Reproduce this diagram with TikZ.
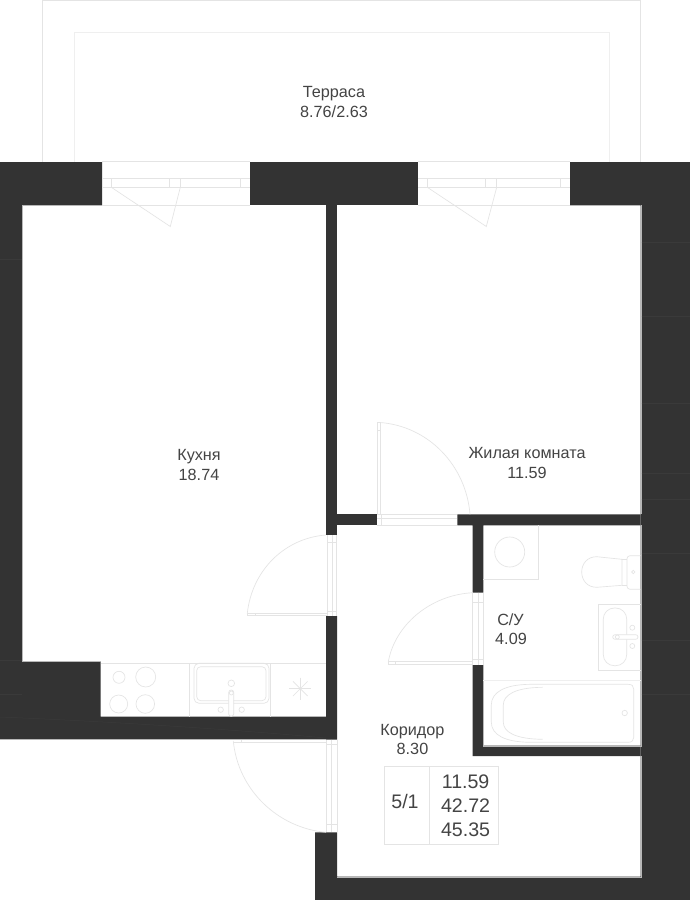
\documentclass[tikz,border=0pt]{standalone}
\usepackage{fontspec}
\setmainfont{Liberation Sans}
\definecolor{wallc}{HTML}{333333}
\definecolor{seamc}{HTML}{3A3A3A}
\definecolor{edgec}{HTML}{B8B8B8}
\definecolor{linec}{HTML}{E4E4E4}
\definecolor{linef}{HTML}{EFEFEF}
\definecolor{txtc}{HTML}{444444}
\tikzset{
  wall/.style={fill=wallc},
  seam/.style={draw=seamc,line width=0.5pt},
  edge line/.style={draw=edgec,line width=0.4pt},
  thin line/.style={draw=linec,line width=0.65pt},
  faint line/.style={draw=linef,line width=1pt},
  label/.style={text=txtc,font=\fontsize{16.2}{16.2}\selectfont,inner sep=0pt,anchor=base},
  big/.style={text=txtc,font=\fontsize{19.6}{19.6}\selectfont,inner sep=0pt,anchor=base},
}
\begin{document}
\begin{tikzpicture}[x=1pt,y=-1pt]
\useasboundingbox (0,0) rectangle (690,900);
\fill[white] (0,0) rectangle (690,900);
% terrace
\draw[thin line] (42.5,162) -- (42.5,0.5) -- (640.7,0.5) -- (640.7,162);
\draw[faint line] (74.5,162) -- (74.5,32) -- (609,32) -- (609,162);
% walls
\path[wall] (0,162) -- (102,162) -- (102,205.3) -- (22.3,205.3) -- (22.3,661.5) -- (100.7,661.5) -- (100.7,716.7) -- (326,716.7) -- (326,616) -- (337,616) -- (337,739.5) -- (0,739.5) -- cycle;
\path[wall] (250.3,162) rectangle (418,205.3);
\path[wall] (326,205.3) rectangle (337,535);
\path[wall] (337,514.3) rectangle (377,525.3);
\path[wall] (570,162) -- (690,162) -- (690,900) -- (315,900) -- (315,832.3) -- (337,832.3) -- (337,876.7) -- (640.7,876.7) -- (640.7,205.3) -- (570,205.3) -- cycle;
\path[wall] (457.3,514.3) -- (640.7,514.3) -- (640.7,525.3) -- (483.3,525.3) -- (483.3,592.7) -- (472.7,592.7) -- (472.7,525.3) -- (457.3,525.3) -- cycle;
\path[wall] (472.7,665) -- (483.3,665) -- (483.3,745.7) -- (640.7,745.7) -- (640.7,756) -- (472.7,756) -- cycle;
% room edges of the walls
\draw[edge line] (22.3,205.3) -- (22.3,661.5) -- (100.7,661.5);
\draw[edge line] (640.7,205.3) -- (640.7,514.3);
\draw[edge line] (640.7,525.3) -- (640.7,745.7) -- (483.3,745.7) -- (483.3,665);
\draw[edge line] (640.7,756) -- (640.7,876.7) -- (337,876.7);
\draw[edge line] (0,739.5) -- (326,739.5);
% wall seams
\foreach \yy in {242,316,403,473,499,553,640,694} {\draw[seam] (641.5,\yy) -- (690,\yy);}
\foreach \yy in {259,660,694} {\draw[seam] (0,\yy) -- (22,\yy);}
\draw[seam] (0,717) .. controls (120,722) and (240,730) .. (326,738);
% windows
\foreach \xa/\xb/\xc/\xd/\xe/\xf in {102/250.3/111.3/169.3/180.3/240.3, 418/570/427.3/485.3/496.7/560.3} {
  \draw[thin line] (\xa,161.7) -- (\xb,161.7);
  \draw[thin line] (\xa,178.3) -- (\xb,178.3);
  \draw[thin line] (\xa,187.3) -- (\xb,187.3);
  \draw[thin line] (\xa,205.3) -- (\xb,205.3);
  \draw[thin line] (\xc,178.3) -- (\xc,187.3);
  \draw[thin line] (\xd,178.3) -- (\xd,187.3);
  \draw[thin line] (\xe,178.3) -- (\xe,187.3);
  \draw[thin line] (\xf,178.3) -- (\xf,187.3);
  \draw[thin line] (\xc,187.3) -- ({\xd+1},226.5) -- (\xe,187.3);
}
% room door
\draw[thin line] (377,422.5) rectangle (380,514.3);
\draw[thin line] (377,430.7) -- (380,430.7);
\draw[thin line] (380,422.5) .. controls (428,426) and (466,465) .. (470,514.3);
\draw[thin line] (377,514.3) -- (457.3,514.3);
\draw[thin line] (377,518.5) -- (457.3,518.5);
\draw[thin line] (377,525.3) -- (457.3,525.3);
\draw[thin line] (381.7,514.3) -- (381.7,525.3);
% kitchen door
\draw[thin line] (327.5,535) -- (327.5,616);
\draw[thin line] (332,535) -- (332,616);
\draw[thin line] (336.7,535) -- (336.7,616);
\draw[thin line] (327.5,542.7) -- (336.7,542.7);
\draw[thin line] (327.5,611.3) -- (336.7,611.3);
\draw[thin line] (247.3,613.3) rectangle (327.5,615.7);
\draw[thin line] (255,613.3) -- (255,615.7);
\draw[thin line] (326,535) .. controls (285,538) and (252,570) .. (247.3,613.3);
% bath door
\draw[thin line] (472.7,592.7) -- (472.7,665);
\draw[thin line] (478,592.7) -- (478,665);
\draw[thin line] (483.3,592.7) -- (483.3,665);
\draw[thin line] (472.7,602.5) -- (483.3,602.5);
\draw[thin line] (472.7,659.5) -- (483.3,659.5);
\draw[thin line] (388.3,661.7) rectangle (472.7,664.3);
\draw[thin line] (395.7,661.7) -- (395.7,664.3);
\draw[thin line] (472.7,592.7) .. controls (430,595) and (395,625) .. (388.3,661.7);
% entry door
\draw[thin line] (326,739.5) -- (326,832.3);
\draw[thin line] (331.5,739.5) -- (331.5,832.3);
\draw[thin line] (337,739.5) -- (337,832.3);
\draw[thin line] (326,744.3) -- (337,744.3);
\draw[thin line] (326,824.3) -- (337,824.3);
\draw[thin line] (233.3,742) -- (326,742);
\draw[thin line] (241.7,739.5) -- (241.7,742);
\draw[thin line] (326,832.3) .. controls (278,828) and (238,790) .. (233.3,741);
% kitchen counter
\draw[thin line] (100.7,663.3) -- (326,663.3);
\draw[thin line] (189.3,663.3) -- (189.3,716.7);
\draw[thin line] (270.7,663.3) -- (270.7,716.7);
\draw[thin line] (119,677.3) circle (6);
\draw[thin line] (145.7,677) circle (10);
\draw[thin line] (118.7,704) circle (9);
\draw[thin line] (145.3,704) circle (9.3);
\draw[thin line,rounded corners=5pt] (194,663.3) rectangle (269,703.3);
\draw[thin line,rounded corners=4pt] (196.7,666.7) rectangle (266,700.7);
\draw[thin line] (231.3,683.3) circle (3.3);
\draw[thin line,rounded corners=2.4pt,fill=white] (228.7,690) rectangle (233.7,716.3);
\draw[thin line] (231.3,693) circle (2);
\draw[thin line] (220.7,709.7) circle (2.7);
\draw[thin line] (241.7,709.7) circle (2.7);
\draw[thin line] (300.3,677.7) -- (300.3,699.7);
\draw[thin line] (289.3,688.7) -- (311.3,688.7);
\draw[thin line] (293,681.4) -- (307.6,696);
\draw[thin line] (293,696) -- (307.6,681.4);
% washer
\draw[thin line] (483.3,579.3) -- (538,579.3) -- (538,525.3);
\draw[thin line] (509.7,552) circle (15);
% toilet
\draw[thin line,rounded corners=3pt] (640.7,555.7) -- (627,555.7) -- (627,589.3) -- (640.7,589.3);
\draw[thin line] (622,559.3) -- (622,585.3) -- (596.7,587.3) .. controls (587,587.3) and (581.7,580) .. (581.7,572) .. controls (581.7,564) and (587,556.7) .. (596.7,556.7) -- cycle;
\draw[thin line] (622,559.3) -- (627,559.3);
\draw[thin line] (622,585.3) -- (627,585.3);
\draw[thin line] (633.3,572) circle (1.7);
% bath sink
\draw[thin line] (640.7,604) -- (598.3,604) -- (598.3,670.3) -- (640.7,670.3);
\draw[thin line,rounded corners=11pt] (603.3,608) rectangle (626.7,665.7);
\draw[thin line,rounded corners=2.3pt,fill=white] (612.7,634.7) rectangle (638,639.3);
\draw[thin line] (617.3,637) circle (2);
\draw[thin line] (632.3,627.7) circle (2.5);
\draw[thin line] (632.3,646) circle (2.5);
% tub
\draw[faint line] (483.3,680.7) -- (640.7,680.7);
\draw[thin line] (530,684.3) -- (628,684.3) .. controls (632,684.3) and (633.7,686) .. (633.7,689) -- (633.7,737.5) .. controls (633.7,740.5) and (632,742.3) .. (628,742.3) -- (530,742.3) .. controls (505,742) and (491.3,735) .. (491.3,722) -- (491.3,705) .. controls (491.3,692) and (505,684.6) .. (530,684.3);
\draw[thin line] (542.7,687.3) .. controls (515,687.5) and (503.3,695) .. (503.3,705) -- (503.3,722) .. controls (503.3,732) and (515,739) .. (542.7,739.3);
\draw[thin line] (624.7,713) circle (2.7);
% summary table
\draw[thin line] (384.7,766) rectangle (498.7,844.7);
\draw[thin line] (429.3,766) -- (429.3,844.7);
% labels
\node[label] (terr) at (334,97.5) {Терраса};
\node[label] (terrv) at (334,117) {8.76/2.63};
\node[label] (kit) at (199,460.5) {Кухня};
\node[label] (kitv) at (199,480.5) {18.74};
\node[label] (room) at (527,458.5) {Жилая комната};
\node[label] (roomv) at (527,478.5) {11.59};
\node[label] (bath) at (510.5,625) {С/У};
\node[label] (bathv) at (511,644.5) {4.09};
\node[label] (corr) at (412.3,735.5) {Коридор};
\node[label] (corrv) at (412.5,754.5) {8.30};
\node[big] (fl) at (405,808.8) {5/1};
\node[big] (s1) at (465.6,788.3) {11.59};
\node[big] (s2) at (465.6,812.8) {42.72};
\node[big] (s3) at (465.6,836.3) {45.35};
\end{tikzpicture}
\end{document}
